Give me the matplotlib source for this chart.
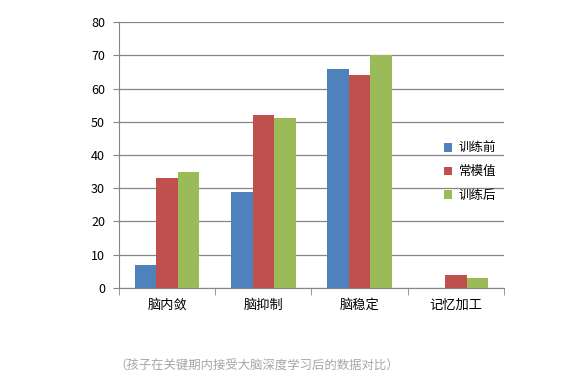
import matplotlib.pyplot as plt
import numpy as np

plt.rcParams['font.family'] = ['Noto Sans CJK SC', 'DejaVu Sans']

categories = ['脑内敛', '脑抑制', '脑稳定', '记忆加工']
series_names = ['训练前', '常模值', '训练后']
before = [7, 29, 66, 0]
norm = [33, 52, 64, 4]
after = [35, 51, 70, 3]
colors = ['#4F81BD', '#C0504D', '#9BBB59']

fig = plt.figure(figsize=(5.77, 3.86), dpi=100)
ax = fig.add_axes([0.2062, 0.2539, 0.6673, 0.6891])

x = np.arange(len(categories))
w = 0.224
for i, (vals, c, name) in enumerate(zip([before, norm, after], colors, series_names)):
    ax.bar(x + (i - 1) * w, vals, width=w, color=c, label=name, zorder=3)

ax.set_xlim(-0.5, len(categories) - 0.5)
ax.set_ylim(0, 80)
ax.set_yticks(range(0, 81, 10))
ax.yaxis.grid(True, color='#868686', linewidth=0.9, zorder=0)

ax.set_xticks(x)
ax.set_xticklabels(categories, fontsize=9.5)
ax.set_xticks(np.arange(-0.5, len(categories), 1), minor=True)
ax.tick_params(axis='x', which='major', length=0, pad=8)
ax.tick_params(axis='x', which='minor', length=5, color='#868686')
ax.tick_params(axis='y', length=4, color='#868686', labelsize=9, pad=6)

for s in ['top', 'right']:
    ax.spines[s].set_visible(False)
for s in ['left', 'bottom']:
    ax.spines[s].set_color('#868686')

ax.legend(loc='center left', bbox_to_anchor=(0.83, 0.437), frameon=False,
          fontsize=9, handlelength=0.7, handleheight=0.7, handletextpad=0.5,
          labelspacing=0.85, borderaxespad=0)

fig.text(0.445, 0.05, '（孩子在关键期内接受大脑深度学习后的数据对比）',
         ha='center', va='center', fontsize=8.9, color='#a6a6a6')

fig.savefig('out.png', dpi=100)
